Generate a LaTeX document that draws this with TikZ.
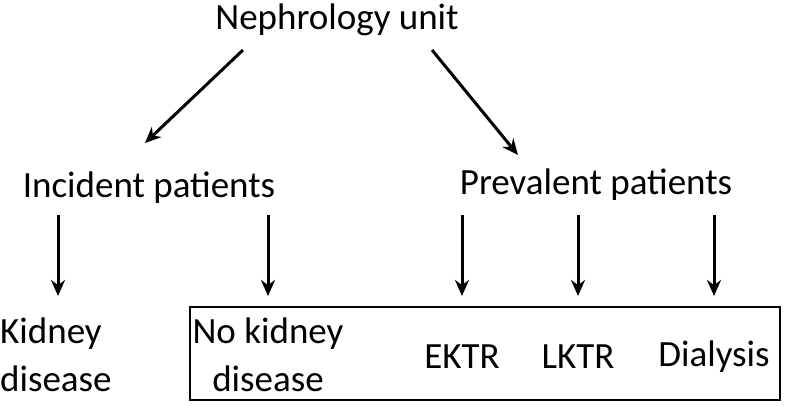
\documentclass[tikz,border=0pt]{standalone}
\usepackage{fontspec}
\setmainfont{Carlito}
\usetikzlibrary{arrows.meta}
\begin{document}
\begin{tikzpicture}[x=1pt,y=-1pt,
  lbl/.style={font=\fontsize{37}{48}\selectfont, inner sep=0pt, align=center},
  arr/.style={-{Stealth[length=16pt,width=14pt]}, line width=3pt}]
\useasboundingbox (0,0) rectangle (793,406);
\node[lbl] (neph) at (337,20) {Nephrology unit};
\node[lbl] (inc) at (149,188) {Incident patients};
\node[lbl] (prev) at (596,185) {Prevalent patients};
\coordinate (a1s) at (243,50); \coordinate (a1e) at (145,143);
\coordinate (a2s) at (432,50); \coordinate (a2e) at (518,155);
\draw[arr] (a1s) -- (a1e);
\draw[arr] (a2s) -- (a2e);
\draw[line width=1.3pt] (190,307) rectangle (780,400);
\node[lbl, align=left, anchor=west] (kd) at (0,355) {Kidney\\disease};
\node[lbl] (nkd) at (268,355) {No kidney\\disease};
\node[lbl] (ektr) at (462,357) {EKTR};
\node[lbl] (lktr) at (578,357) {LKTR};
\node[lbl] (dial) at (714,357) {Dialysis};
\foreach \x/\n in {58/kd,268/nkd,462/ektr,578/lktr,714/dial}{
  \coordinate (t\n) at (\x,215); \coordinate (b\n) at (\x,296);
  \draw[arr] (t\n) -- (b\n);
}
\end{tikzpicture}
\end{document}
